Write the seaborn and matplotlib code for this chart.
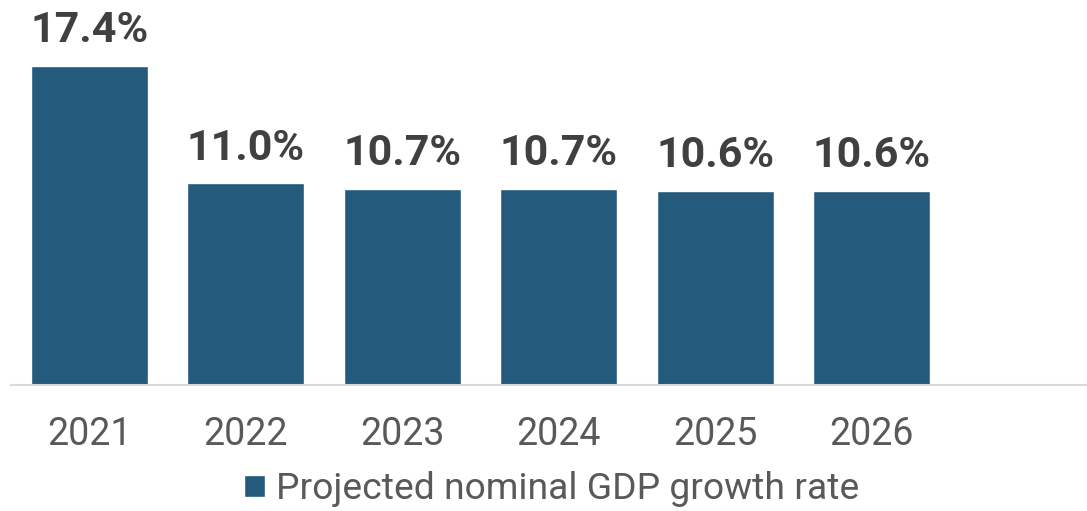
import matplotlib
matplotlib.use("Agg")
import matplotlib.pyplot as plt
import seaborn as sns
import pandas as pd

years = ["2021", "2022", "2023", "2024", "2025", "2026"]
growth = [17.4, 11.0, 10.7, 10.7, 10.6, 10.6]
series_name = "Projected nominal GDP growth rate"

sns.set_theme(style="white")
plt.rcParams["font.family"] = ["Roboto", "DejaVu Sans"]

bar_color = "#245a7b"
df = pd.DataFrame({"year": years, "growth": growth})

fig = plt.figure(figsize=(10.87, 5.11), dpi=100)
W, H = 1087, 511
slot = 156.5
ax = fig.add_axes([11 / W, 126 / H, 7 * slot / W, 385 / H])

sns.barplot(data=df, x="year", y="growth", color=bar_color, width=0.75,
            saturation=1, ax=ax, label=series_name)

ax.set_xlim(-0.5, 6.5)
ax.set_ylim(0, 21.0)

for s in ["top", "right", "left"]:
    ax.spines[s].set_visible(False)
ax.spines["bottom"].set_color("#d9d9d9")
ax.spines["bottom"].set_linewidth(1.5)
ax.set_yticks([])
ax.set_xlabel("")
ax.set_ylabel("")
ax.tick_params(axis="x", length=0, pad=22, labelsize=27, labelcolor="#595959")

cont = ax.containers[0]
ax.bar_label(cont, labels=[f"{v:.1f}%" for v in growth], padding=10.5,
             fontsize=31, fontweight="bold", color="#404040")

leg = ax.get_legend()
if leg is not None:
    leg.remove()
fig.legend(handles=[cont.patches[0]], labels=[series_name],
           loc="center", bbox_to_anchor=(552 / W, 1 - 489 / H),
           frameon=False, fontsize=26.8, labelcolor="#595959",
           handlelength=0.56, handleheight=0.56, handletextpad=0.3,
           borderpad=0, borderaxespad=0)

fig.savefig("out.png", dpi=100)
